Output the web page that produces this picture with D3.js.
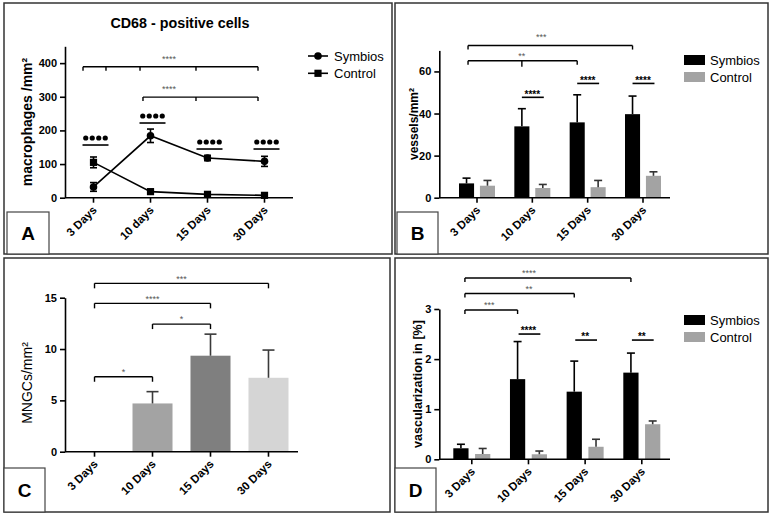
<!DOCTYPE html>
<html><head><meta charset="utf-8">
<script src="https://cdn.jsdelivr.net/npm/d3@7"></script>
<style>body{margin:0;background:#fff}svg text{font-family:"Liberation Sans",Arial,Helvetica,sans-serif}</style>
</head><body>
<svg id="c" width="773" height="515"></svg>
<script>
// ---------- data ----------
const daysA = ["3 Days", "10 days", "15 Days", "30 Days"];
const days = ["3 Days", "10 Days", "15 Days", "30 Days"];
const seriesNames = ["Symbios", "Control"];
// A: CD68 positive cells (macrophages /mm2)
const macroSymbios = [32, 184, 118, 108];
const macroSymbiosErr = [13, 20, 8, 15];
const macroControl = [105, 18, 10, 7];
const macroControlErr = [16, 4, 3, 3];
const ticksA = [0, 100, 200, 300, 400];
// B: vessels/mm2
const vesselsSymbios = [6.8, 33.9, 35.8, 39.7];
const vesselsSymbiosErr = [2.5, 8.4, 13.1, 8.6];
const vesselsControl = [5.7, 4.6, 5.0, 10.4];
const vesselsControlErr = [2.5, 1.7, 3.2, 1.9];
const ticksB = [0, 20, 40, 60];
// C: MNGCs/mm2
const mngc = [0, 4.7, 9.35, 7.2];
const mngcErr = [0, 1.15, 2.1, 2.7];
const ticksC = [0, 5, 10, 15];
// D: vascularization in [%]
const vascSymbios = [0.22, 1.6, 1.35, 1.73];
const vascSymbiosErr = [0.08, 0.75, 0.61, 0.39];
const vascControl = [0.106, 0.1, 0.25, 0.70];
const vascControlErr = [0.11, 0.065, 0.15, 0.065];
const ticksD = [0, 1, 2, 3];

// significance annotations (category, level in data units)
const sigA_brackets = [
  {label: "****", level: 389, ticks: [-0.184, 0.219, 0.816, 1.798, 2.886], labelAt: 1.325},
  {label: "****", level: 299, ticks: [0.868, 1.798, 2.886], labelAt: 1.325}
];
const sigA_pairs = [156.6, 222, 144.7, 144.7];
const sigB_brackets = [
  {label: "***", level: 72.3, from: 0, to: 3, mid: null, labelAt: 1.35},
  {label: "**", level: 65.1, from: 0, to: 2, mid: 1, labelAt: 1}
];
const sigB_pairs = [null, {label: "****", level: 47.7}, {label: "****", level: 54.3}, {label: "****", level: 54.3}];
const sigC_brackets = [
  {label: "*", level: 7.3, from: 0, to: 1},
  {label: "*", level: 12.43, from: 1, to: 2},
  {label: "****", level: 14.45, from: 0, to: 2},
  {label: "***", level: 16.4, from: 0, to: 3}
];
const sigD_brackets = [
  {label: "***", level: 2.98, from: 0, to: 1, labelAt: 0.5},
  {label: "**", level: 3.31, from: 0, to: 2, labelAt: 1.2},
  {label: "****", level: 3.62, from: 0, to: 3, labelAt: 1.2}
];
const sigD_pairs = [null, {label: "****", level: 2.5}, {label: "**", level: 2.38}, {label: "**", level: 2.38}];

// ---------- helpers ----------
const svg = d3.select("#c");
const BLACK = "#000", GREY = "#a3a3a3";

function frame(x, y, w, h) {
  svg.append("rect").attr("x", x).attr("y", y).attr("width", w).attr("height", h)
    .attr("fill", "none").attr("stroke", "#333").attr("stroke-width", 1.5);
}
function letterBox(x, y, w, h, letter) {
  svg.append("rect").attr("x", x).attr("y", y).attr("width", w).attr("height", h)
    .attr("fill", "#fff").attr("stroke", "#444").attr("stroke-width", 1.2);
  svg.append("text").attr("x", x + w / 2).attr("y", y + h / 2 + 7).attr("text-anchor", "middle")
    .attr("font-size", 19).attr("font-weight", "bold").text(letter);
}
function yAxis(g, x, y, ticks) {
  const ax = g.append("g").attr("transform", `translate(${x},0)`)
    .call(d3.axisLeft(y).tickValues(ticks).tickFormat(d3.format("d")).tickSize(5).tickSizeOuter(0).tickPadding(3));
  ax.select(".domain").attr("stroke-width", 1.6);
  ax.selectAll(".tick line").attr("stroke-width", 1.6);
  ax.selectAll(".tick text").attr("font-size", 11).attr("font-weight", "bold")
    .attr("font-family", '"Liberation Sans",Arial,sans-serif').attr("fill", "#000");
}
function xAxis(g, x, cats, x0, x1, y0) {
  g.append("line").attr("x1", x0).attr("x2", x1).attr("y1", y0).attr("y2", y0)
    .attr("stroke", "#000").attr("stroke-width", 1.6);
  cats.forEach(c => {
    g.append("line").attr("x1", x(c)).attr("x2", x(c)).attr("y1", y0).attr("y2", y0 + 5)
      .attr("stroke", "#000").attr("stroke-width", 1.6);
    g.append("text").attr("transform", `translate(${x(c) + 4},${y0 + 13}) rotate(-45)`)
      .attr("text-anchor", "end").attr("font-size", 11.5).attr("font-weight", "bold").text(c);
  });
}
function yLabel(g, cx, cy, text, size, bold) {
  g.append("text").attr("transform", `translate(${cx},${cy}) rotate(-90)`)
    .attr("text-anchor", "middle").attr("dy", "0.35em").attr("font-size", size)
    .attr("font-weight", bold ? "bold" : "normal").text(text);
}
function starText(g, x, cy, label, size, color, bold) {
  g.append("text").attr("x", x).attr("y", cy + 0.58 * size).attr("text-anchor", "middle")
    .attr("font-size", size).attr("fill", color).attr("font-weight", bold ? "bold" : "normal").text(label);
}
function hline(g, x1, x2, y, w) {
  g.append("line").attr("x1", x1).attr("x2", x2).attr("y1", y).attr("y2", y)
    .attr("stroke", "#000").attr("stroke-width", w || 1.4);
}
function vline(g, x, y1, y2, w, color) {
  g.append("line").attr("x1", x).attr("x2", x).attr("y1", y1).attr("y2", y2)
    .attr("stroke", color || "#000").attr("stroke-width", w || 1.4);
}
function errUp(g, x, yTop, yCap, capW, color) {
  vline(g, x, yTop, yCap, 1.6, color);
  g.append("line").attr("x1", x - capW / 2).attr("x2", x + capW / 2).attr("y1", yCap).attr("y2", yCap)
    .attr("stroke", color).attr("stroke-width", 1.6);
}
function legendRects(g, x, y1, y2) {
  [[seriesNames[0], BLACK, y1], [seriesNames[1], GREY, y2]].forEach(([n, c, yy]) => {
    g.append("rect").attr("x", x).attr("y", yy - 5).attr("width", 21).attr("height", 10).attr("fill", c);
    g.append("text").attr("x", x + 26).attr("y", yy + 4.6).attr("font-size", 13).text(n);
  });
}

// ---------- frames ----------
frame(4, 3, 388, 251);
frame(395, 3, 373, 251);
frame(4, 258, 386, 254);
frame(395, 258, 373, 254);

// ---------- Panel A ----------
{
  const g = svg.append("g");
  const y = d3.scaleLinear().domain([0, 450]).range([197.7, 46.3]);
  const x = d3.scalePoint().domain(daysA).range([93.5, 264.5]);
  const xi = d3.scaleLinear().domain([0, 1]).range([x(daysA[0]), x(daysA[1])]);
  g.append("text").attr("x", 180).attr("y", 28).attr("text-anchor", "middle")
    .attr("font-size", 14.3).attr("font-weight", "bold").text("CD68 - positive cells");
  yAxis(g, 65, y, ticksA);
  xAxis(g, x, daysA, 65, 293, y(0));
  yLabel(g, 27, 122, "macrophages /mm²", 14, true);
  const ser = [[macroSymbios, macroSymbiosErr, "circle"], [macroControl, macroControlErr, "square"]];
  const line = d3.line().x((d, i) => x(daysA[i])).y(d => y(d));
  ser.forEach(([vals, errs, shape]) => {
    g.append("path").attr("d", line(vals)).attr("fill", "none").attr("stroke", "#000").attr("stroke-width", 1.6);
    vals.forEach((v, i) => {
      const cx = x(daysA[i]);
      vline(g, cx, y(v - errs[i]), y(v + errs[i]), 1.6);
      hline(g, cx - 3.5, cx + 3.5, y(v + errs[i]), 1.6);
      hline(g, cx - 3.5, cx + 3.5, y(v - errs[i]), 1.6);
      if (shape === "circle") g.append("circle").attr("cx", cx).attr("cy", y(v)).attr("r", 3.8).attr("fill", "#000");
      else g.append("rect").attr("x", cx - 3.6).attr("y", y(v) - 3.6).attr("width", 7.2).attr("height", 7.2).attr("fill", "#000");
    });
  });
  sigA_brackets.forEach(b => {
    const yy = y(b.level);
    hline(g, xi(b.ticks[0]), xi(b.ticks[b.ticks.length - 1]), yy, 1.4);
    b.ticks.forEach(t => vline(g, xi(t), yy, yy + 4, 1.4));
    starText(g, xi(b.labelAt), yy - 10, b.label, 9, "#555", false);
  });
  sigA_pairs.forEach((lv, i) => {
    const cx = x(daysA[i]) + 2, yy = y(lv);
    hline(g, cx - 13, cx + 13, yy, 1.6);
    for (let k = 0; k < 4; k++) g.append("circle").attr("cx", cx - 9.75 + k * 6.5).attr("cy", yy - 7).attr("r", 2.6).attr("fill", "#000");
  });
  // legend
  [["Symbios", "circle", 56], ["Control", "square", 73.3]].forEach(([n, s, yy]) => {
    hline(g, 308, 328, yy, 1.6);
    if (s === "circle") g.append("circle").attr("cx", 318).attr("cy", yy).attr("r", 3.8);
    else g.append("rect").attr("x", 314.4).attr("y", yy - 3.6).attr("width", 7.2).attr("height", 7.2);
    g.append("text").attr("x", 334).attr("y", yy + 4.6).attr("font-size", 13).text(n);
  });
}

// ---------- Panel B ----------
{
  const g = svg.append("g");
  const y = d3.scaleLinear().domain([0, 70]).range([197.7, 50.4]);
  const x = d3.scalePoint().domain(days).range([477, 643]);
  const inner = d3.scaleBand().domain(seriesNames).range([-18, 18]).paddingInner(0.28);
  const sx = c => x(c) + inner("Symbios") + inner.bandwidth() / 2;
  const cxC = c => x(c) + inner("Control") + inner.bandwidth() / 2;
  yAxis(g, 439.3, y, ticksB);
  const data = [[vesselsSymbios, vesselsSymbiosErr, "Symbios", BLACK, "#000"], [vesselsControl, vesselsControlErr, "Control", GREY, "#333"]];
  data.forEach(([vals, errs, n, col, ecol]) => {
    vals.forEach((v, i) => {
      const c = days[i];
      const bx = x(c) + inner(n);
      g.append("rect").attr("x", bx).attr("y", y(v)).attr("width", inner.bandwidth()).attr("height", y(0) - y(v)).attr("fill", col);
      errUp(g, bx + inner.bandwidth() / 2, y(v), y(v + errs[i]), 8, ecol);
    });
  });
  xAxis(g, x, days, 439.3, 670, y(0));
  yLabel(g, 414, 124, "vessels/mm²", 12, true);
  sigB_brackets.forEach(b => {
    const yy = y(b.level), x1 = sx(days[b.from]) + 1.5, x2 = sx(days[b.to]);
    hline(g, x1, x2, yy, 1.4);
    vline(g, x1, yy, yy + 4, 1.4); vline(g, x2, yy, yy + 4, 1.4);
    if (b.mid !== null) vline(g, sx(days[b.mid]), yy, yy + 6, 1.4);
    const lx = sx(days[0]) + (sx(days[1]) - sx(days[0])) * b.labelAt;
    starText(g, lx, yy - (b.mid !== null ? 6.5 : 11), b.label, 9, "#555", false);
  });
  sigB_pairs.forEach((p, i) => {
    if (!p) return;
    const c = days[i], yy = y(p.level);
    hline(g, sx(c), cxC(c) + 1, yy, 1.6);
    starText(g, (sx(c) + cxC(c)) / 2, yy - 5, p.label, 10, "#000", true);
  });
  legendRects(g, 684, 60, 77);
}

// ---------- Panel C ----------
{
  const g = svg.append("g");
  const y = d3.scaleLinear().domain([0, 15]).range([451.7, 297.7]);
  const x = d3.scaleBand().domain(days).range([65, 298]).paddingInner(0.31).paddingOuter(0.164);
  const colorsC = ["#ffffff", "#a3a3a3", "#7f7f7f", "#d5d5d5"];
  const cx = c => x(c) + x.bandwidth() / 2;
  mngc.forEach((v, i) => {
    const c = days[i];
    if (v > 0) {
      g.append("rect").attr("x", x(c)).attr("y", y(v)).attr("width", x.bandwidth()).attr("height", y(0) - y(v)).attr("fill", colorsC[i]);
      errUp(g, cx(c), y(v), y(v + mngcErr[i]), 12, "#3a3a3a");
    }
  });
  yAxis(g, 65, y, ticksC);
  xAxis(g, d => cx(d), days, 65, 298, y(0));
  yLabel(g, 27, 383, "MNGCs/mm²", 14, false);
  sigC_brackets.forEach(b => {
    const yy = y(b.level), x1 = cx(days[b.from]), x2 = cx(days[b.to]);
    hline(g, x1, x2, yy, 1.4);
    vline(g, x1, yy, yy + 5, 1.4); vline(g, x2, yy, yy + 5, 1.4);
    starText(g, (x1 + x2) / 2, yy - 7, b.label, 9, "#555", false);
  });
}

// ---------- Panel D ----------
{
  const g = svg.append("g");
  const y = d3.scaleLinear().domain([0, 3]).range([459.3, 309]);
  const x = d3.scalePoint().domain(days).range([471.8, 641.8]);
  const inner = d3.scaleBand().domain(seriesNames).range([-18.5, 18.5]).paddingInner(0.3);
  const sx = c => x(c) + inner("Symbios") + inner.bandwidth() / 2;
  const cxC = c => x(c) + inner("Control") + inner.bandwidth() / 2;
  yAxis(g, 439.3, y, ticksD);
  const data = [[vascSymbios, vascSymbiosErr, "Symbios", BLACK, "#000"], [vascControl, vascControlErr, "Control", GREY, "#333"]];
  data.forEach(([vals, errs, n, col, ecol]) => {
    vals.forEach((v, i) => {
      const c = days[i];
      const bx = x(c) + inner(n);
      g.append("rect").attr("x", bx).attr("y", y(v)).attr("width", inner.bandwidth()).attr("height", y(0) - y(v)).attr("fill", col);
      errUp(g, bx + inner.bandwidth() / 2, y(v), y(v + errs[i]), 8, ecol);
    });
  });
  xAxis(g, x, days, 439.3, 670, y(0));
  yLabel(g, 418, 384, "vascularization in [%]", 12.5, true);
  const xi = d3.scaleLinear().domain([0, 1]).range([sx(days[0]), sx(days[1])]);
  sigD_brackets.forEach(b => {
    const yy = y(b.level), x1 = sx(days[b.from]) + 4, x2 = sx(days[b.to]);
    hline(g, x1, x2, yy, 1.4);
    vline(g, x1, yy, yy + 4, 1.4); vline(g, x2, yy, yy + 4, 1.4);
    starText(g, xi(b.labelAt), yy - 7, b.label, 9, "#555", false);
  });
  sigD_pairs.forEach((p, i) => {
    if (!p) return;
    const c = days[i], yy = y(p.level);
    hline(g, sx(c) + 1, cxC(c) + 1, yy, 1.6);
    starText(g, (sx(c) + cxC(c)) / 2, yy - 5.5, p.label, 10, "#000", true);
  });
  legendRects(g, 684, 320, 337);
}

// ---------- panel letters ----------
letterBox(7, 212, 42, 42, "A");
letterBox(397, 212, 41, 42, "B");
letterBox(4, 468, 41, 44, "C");
letterBox(395, 468, 41, 44, "D");
</script>
</body></html>
